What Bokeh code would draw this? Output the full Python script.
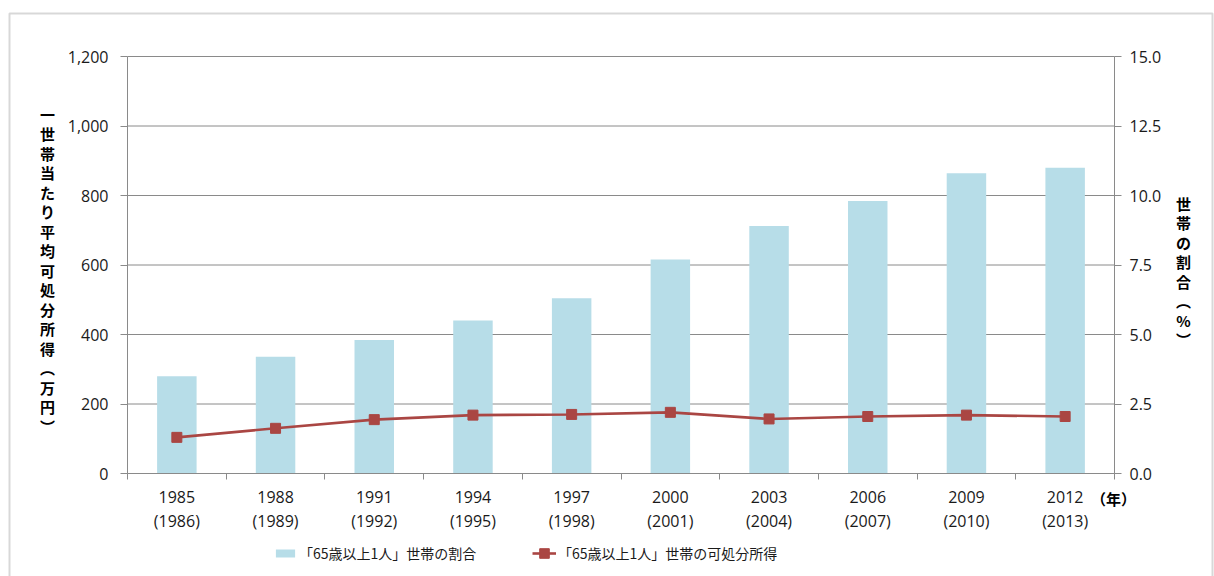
from bokeh.plotting import figure
from bokeh.models import (Range1d, LinearAxis, FixedTicker, NumeralTickFormatter,
                          Legend, LegendItem, ColumnDataSource, Label, BoxAnnotation)
from bokeh.embed import file_html
from bokeh.resources import INLINE

# ---- data ----
years = ["1985", "1988", "1991", "1994", "1997", "2000", "2003", "2006", "2009", "2012"]
years_paren = ["1986", "1989", "1992", "1995", "1998", "2001", "2004", "2007", "2010", "2013"]
share_pct = [3.5, 4.2, 4.8, 5.5, 6.3, 7.7, 8.9, 9.8, 10.8, 11.0]      # right axis (%)
income_man = [104, 130, 155, 168, 170, 176, 157, 164, 168, 164]      # left axis (万円)
left_ticks = [0, 200, 400, 600, 800, 1000, 1200]
right_ticks = [0, 2.5, 5, 7.5, 10, 12.5, 15]
bar_label = "「65歳以上1人」世帯の割合"
line_label = "「65歳以上1人」世帯の可処分所得"
left_title = "一世帯当たり平均可処分所得︵万円︶"
right_title = "世帯の割合︵%︶"
year_unit = "（年）"

GRAY = "#8a8a8a"
BAR = "#B7DDE8"
RED = "#AA4643"
NUM_FONT = "Open Sans"
JP_FONT = "Noto Sans CJK JP"
TXT = "#1a1a1a"

# ---- page layout (pixels) ----
W, H = 1214, 576
PL, PR, PT, PB = 127, 1114, 56, 473          # plot-area edges on the canvas
n = len(years)
LMAX = left_ticks[-1]
RMAX = right_ticks[-1]
xpp = n / (PR - PL)                           # x data units per pixel
ypp = LMAX / (PB - PT)                        # left-y data units per pixel

def px_x(px):
    return (px - PL) * xpp

def px_y(py):
    return (PB - py) * ypp

xs = [i + 0.5 for i in range(n)]
src = ColumnDataSource(dict(x=xs, share=share_pct, income=income_man))

p = figure(width=W, height=H, title=None,
           x_range=Range1d(px_x(0), px_x(W)), y_range=Range1d(px_y(H), px_y(0)),
           output_backend="svg", toolbar_location=None,
           min_border_left=0, min_border_right=0, min_border_top=0, min_border_bottom=0)
p.outline_line_color = None
p.background_fill_color = "white"
p.border_fill_color = "white"
p.xgrid.visible = False
p.ygrid.visible = False

scale = RMAX / LMAX
p.extra_y_ranges = {"pct": Range1d(px_y(H) * scale, px_y(0) * scale)}

# horizontal gridlines across the plot area
p.segment(x0=[0] * len(left_ticks), x1=[n] * len(left_ticks), y0=left_ticks, y1=left_ticks,
          line_color=GRAY, line_width=1)

bars = p.vbar(x="x", top="share", width=0.4, source=src, y_range_name="pct",
              fill_color=BAR, line_color=None)
ln = p.line(x="x", y="income", source=src, line_color=RED, line_width=2.6)
mk = p.scatter(x="x", y="income", source=src, marker="square", size=10,
               fill_color=RED, line_color=RED)

def style_ticks(ax, standoff):
    ax.axis_line_color = GRAY
    ax.major_tick_line_color = GRAY
    ax.major_tick_out = 7
    ax.major_tick_in = 0
    ax.minor_tick_line_color = None
    ax.major_label_standoff = standoff
    ax.major_label_text_font = NUM_FONT
    ax.major_label_text_font_size = "16px"
    ax.major_label_text_color = TXT

# left axis
la = p.yaxis[0]
la.ticker = FixedTicker(ticks=left_ticks)
la.formatter = NumeralTickFormatter(format="0,0")
la.fixed_location = 0
la.bounds = (0, LMAX)
style_ticks(la, 12)

# right axis
ra = LinearAxis(y_range_name="pct", ticker=FixedTicker(ticks=right_ticks),
                formatter=NumeralTickFormatter(format="0.0"),
                fixed_location=n, bounds=(0, RMAX))
style_ticks(ra, 8)
p.add_layout(ra, "right")

# x axis
xa = p.xaxis[0]
xa.fixed_location = 0
xa.bounds = (0, n)
xa.ticker = FixedTicker(ticks=xs, minor_ticks=list(range(n + 1)))
xa.major_label_overrides = {x: f"{a}\n({b})" for x, a, b in zip(xs, years, years_paren)}
xa.axis_line_color = GRAY
xa.major_tick_out = 0
xa.major_tick_in = 0
xa.major_tick_line_color = None
xa.minor_tick_line_color = GRAY
xa.minor_tick_out = 6
xa.minor_tick_in = 0
xa.major_label_standoff = 6
xa.major_label_text_font = NUM_FONT
xa.major_label_text_font_size = "16px"
xa.major_label_text_line_height = 1.12
xa.major_label_text_color = TXT

# axis titles (stacked vertical text)
def title_label(text, cx, top):
    return Label(x=px_x(cx), y=px_y(top), text=text, text_align="center",
                 text_baseline="top", text_font=JP_FONT, text_font_style="bold",
                 text_font_size="15px", text_line_height=0.93, text_color="black")

p.add_layout(title_label("\n".join(left_title), 47, 103))
p.add_layout(title_label("\n".join(right_title), 1183, 192))
p.add_layout(Label(x=px_x(1113), y=px_y(498), text=year_unit, text_align="center",
                   text_baseline="middle", text_font=JP_FONT, text_font_style="bold",
                   text_font_size="15px", text_color="black"))

# legends (bottom)
def make_legend(item, left_px, gh):
    item_h = max(gh, 20)
    return Legend(items=[item], location=(left_px, H - 553 - item_h / 2), orientation="horizontal",
                  padding=0, margin=0, spacing=0, border_line_color=None,
                  background_fill_alpha=0, glyph_width=24, glyph_height=gh,
                  label_standoff=2, label_text_font=JP_FONT, label_text_font_size="14px",
                  label_text_color=TXT, label_height=item_h, label_text_baseline="middle")

p.add_layout(make_legend(LegendItem(label=bar_label, renderers=[bars]), 273, 10))
p.add_layout(make_legend(LegendItem(label=line_label, renderers=[ln, mk]), 532, 24))

# outer frame of the chart object
p.add_layout(BoxAnnotation(left=px_x(9), right=px_x(1212), top=px_y(13), bottom=px_y(H + 20),
                           fill_color=None, fill_alpha=0, line_color="#7f7f7f", line_width=2))

open("out.html", "w").write(file_html(p, INLINE))
